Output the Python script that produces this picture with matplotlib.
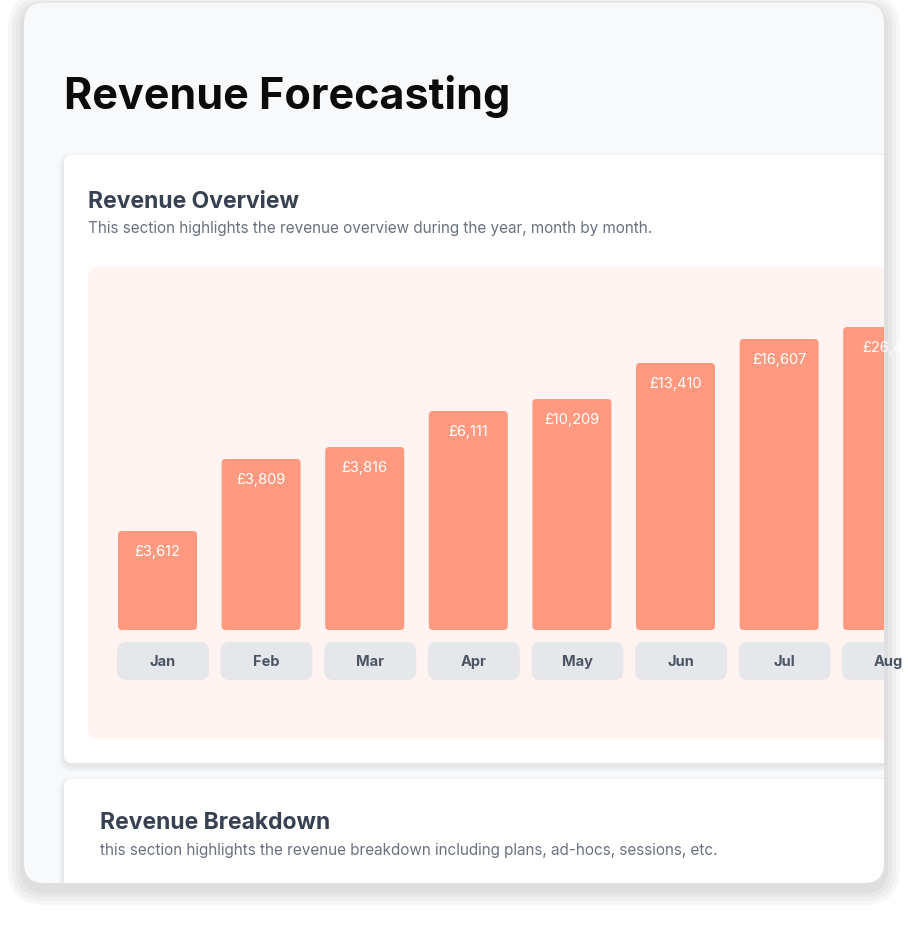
import matplotlib
matplotlib.use("Agg")
import matplotlib.pyplot as plt
from matplotlib.patches import FancyBboxPatch

months = ["Jan", "Feb", "Mar", "Apr", "May", "Jun", "Jul", "Aug"]
revenue_labels = ["£3,612", "£3,809", "£3,816", "£6,111", "£10,209", "£13,410", "£16,607", "£26,4"]
bar_heights = [99, 171, 183, 219, 231, 267, 291, 303]

W, H = 908, 928
fig = plt.figure(figsize=(W / 100, H / 100), dpi=100)
fig.patch.set_facecolor("white")

# page layer in pixel coords
bg = fig.add_axes([0, 0, 1, 1])
bg.set_xlim(0, W)
bg.set_ylim(H, 0)
bg.axis("off")


def rbox(ax, x0, y0, x1, y1, r, fc, z=1, **kw):
    p = FancyBboxPatch((x0, y0), x1 - x0, y1 - y0,
                       boxstyle=f"round,pad=0,rounding_size={r}",
                       fc=fc, ec="none", zorder=z, **kw)
    ax.add_patch(p)
    return p


# outer card with soft shadow
for i, a in enumerate([0.03, 0.03, 0.03, 0.03]):
    g = 4 + i * 4
    rbox(bg, 24 - g, 4 - g + 6, 884 + g, 884 + g + 6, 20 + g, "black", z=0, alpha=a)
rbox(bg, 24, 4, 884, 884, 20, "#f8f9fb", z=1)
bg.text(64, 97, "Revenue Forecasting", fontsize=31, fontweight="bold",
        family="Inter", color="#0b0b0b", va="center", zorder=5)

# inner cards (clipped at outer card edge)
clip = FancyBboxPatch((24, 4), 860, 880, boxstyle="round,pad=0,rounding_size=20",
                      transform=bg.transData, fc="none", ec="none")
for y0, y1 in [(156, 764), (780, 920)]:
    for i in range(3):
        g = 1 + i * 2
        s = rbox(bg, 64 - g, y0 - g + 3, 900 + g, y1 + g + 3, 8 + g, "black", z=2, alpha=0.025)
        s.set_clip_path(clip)
    c = rbox(bg, 64, y0, 900, y1, 8, "white", z=3)
    c.set_clip_path(clip)

bg.text(88, 202, "Revenue Overview", fontsize=16.5, fontweight="bold", family="Inter",
        color="#374151", va="center", zorder=5)
bg.text(88, 229, "This section highlights the revenue overview during the year, month by month.",
        fontsize=11, family="Inter", color="#6b7280", va="center", zorder=5)
bg.text(100, 823, "Revenue Breakdown", fontsize=16.5, fontweight="bold", family="Inter",
        color="#374151", va="center", zorder=5)
bg.text(100, 851, "this section highlights the revenue breakdown including plans, ad-hocs, sessions, etc.",
        fontsize=11, family="Inter", color="#6b7280", va="center", zorder=5)

# chart panel axes: x 88..884, y 268..740 (pixel units, y up from panel bottom)
px0, px1, py0, py1 = 88, 884, 268, 740
ax = fig.add_axes([px0 / W, 1 - py1 / H, (px1 - px0) / W, (py1 - py0) / H])
ax.set_xlim(px0, px1)
ax.set_ylim(0, py1 - py0)
ax.axis("off")
rbox(ax, px0, 0, px1 + 30, py1 - py0, 10, "#fff4f1", z=0)

base = py1 - 631
step = 103.6
lefts = [118 + i * step for i in range(len(months))]
bars = ax.bar(lefts, bar_heights, width=79, bottom=base, align="edge", color="none")
for b, lab, m, x in zip(bars, revenue_labels, months, lefts):
    rbox(ax, b.get_x(), b.get_y(), b.get_x() + b.get_width(), b.get_y() + b.get_height(),
         4, "#ff9a80", z=2)
    ax.text(b.get_x() + b.get_width() / 2, b.get_y() + b.get_height() - 20, lab,
            ha="center", va="center", color="white", fontsize=10.5, family="Inter", zorder=4)
    rbox(ax, x - 1, py1 - 681, x + 91, py1 - 643, 9, "#e5e7eb", z=2)
    ax.text(x + 45, py1 - 662, m, ha="center", va="center", color="#4b5563",
            fontsize=10.5, fontweight="bold", family="Inter", zorder=4)

fig.savefig("out.png", dpi=100, facecolor="white")
